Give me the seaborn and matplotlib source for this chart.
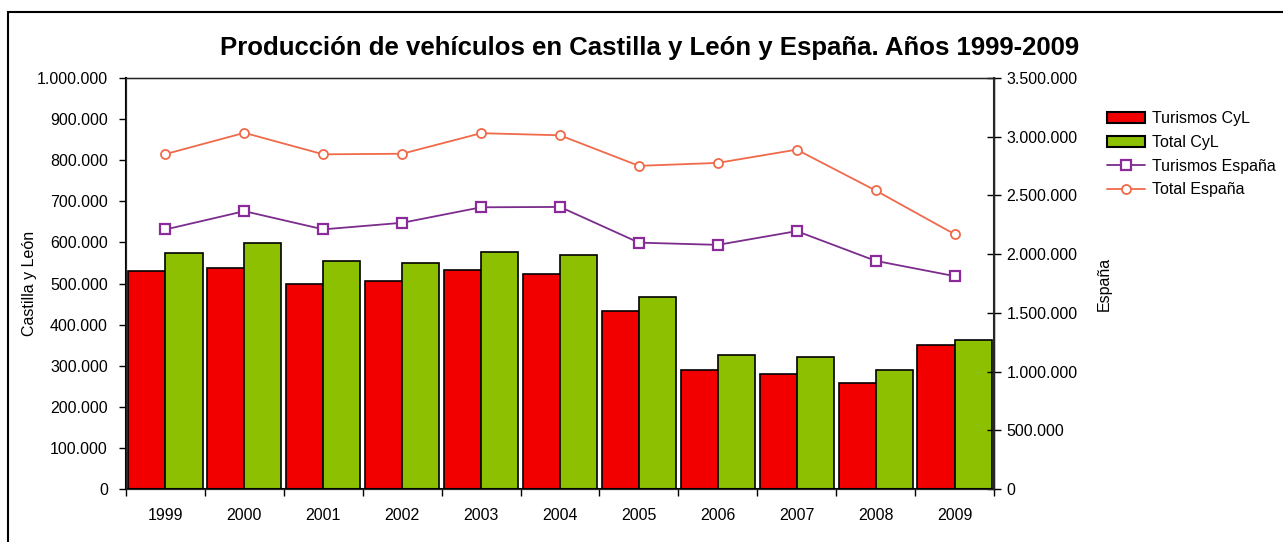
import numpy as np
import pandas as pd
import matplotlib
matplotlib.use("Agg")
import matplotlib.pyplot as plt
import matplotlib.ticker as mticker
from matplotlib.patches import Rectangle
import seaborn as sns

# Data
years = ["1999", "2000", "2001", "2002", "2003", "2004", "2005", "2006", "2007", "2008", "2009"]
turismos_cyl = [530000, 538000, 499000, 506000, 533000, 523000, 433000, 290000, 280000, 258000, 350000]
total_cyl = [574000, 598000, 555000, 550000, 577000, 569000, 467000, 326000, 321000, 290000, 363000]
turismos_esp = [2210000, 2366000, 2211000, 2267000, 2399000, 2402000, 2098000, 2079000, 2196000, 1943000, 1813000]
total_esp = [2852000, 3033000, 2850000, 2855000, 3030000, 3012000, 2752000, 2777000, 2890000, 2542000, 2170000]

bar_labels = ["Turismos CyL", "Total CyL"]
line_labels = ["Turismos España", "Total España"]

sns.set_style("white")
plt.rcParams["font.family"] = ["Liberation Sans", "DejaVu Sans"]
plt.rcParams["text.color"] = "black"
plt.rcParams["axes.labelcolor"] = "black"
plt.rcParams["xtick.color"] = "black"
plt.rcParams["ytick.color"] = "black"

df = pd.DataFrame({
    "year": years * 2,
    "value": turismos_cyl + total_cyl,
    "serie": [bar_labels[0]] * len(years) + [bar_labels[1]] * len(years),
})

fig = plt.figure(figsize=(12.83, 5.42), dpi=100)
ax = fig.add_axes([126 / 1283, 1 - 489 / 542, (994 - 126) / 1283, (489 - 78) / 542])

# outer frame
fig.patches.append(Rectangle((8 / 1283, -0.05), 1.1, 1 - 12 / 542 + 0.05,
                             transform=fig.transFigure, fill=False,
                             edgecolor="black", linewidth=1.5))

sns.barplot(data=df, x="year", y="value", hue="serie",
            palette=["#f20000", "#8cc000"], width=0.94, gap=0,
            edgecolor="black", linewidth=1.2, saturation=1, ax=ax)

ax.set_ylim(0, 1000000)
ax.set_xlim(-0.5, len(years) - 0.5)
ax.yaxis.set_major_locator(mticker.MultipleLocator(100000))
ax.yaxis.set_major_formatter(mticker.FuncFormatter(lambda v, p: f"{int(v):,}".replace(",", ".")))
ax.set_xlabel("")
ax.set_ylabel("Castilla y León", fontsize=11.5, labelpad=0)
ax.tick_params(axis="y", direction="out", length=5, width=1, labelsize=11.5, left=True, pad=8)
ax.set_xticks(np.arange(len(years) + 1) - 0.5, minor=False)
ax.set_xticklabels([])
ax.set_xticks(np.arange(len(years)), minor=True)
ax.set_xticklabels(years, minor=True)
ax.tick_params(axis="x", which="major", direction="out", length=5, width=1, bottom=True)
ax.tick_params(axis="x", which="minor", length=0, labelsize=11.5, pad=14)
for s in ax.spines.values():
    s.set_color("black")
    s.set_linewidth(1)
ax.spines["left"].set_linewidth(1.5)
ax.spines["bottom"].set_linewidth(1.5)
ax.get_legend().remove()

ax2 = ax.twinx()
x = np.arange(len(years))
ax2.plot(x, turismos_esp, color="#7b2c8c", linewidth=1.3, marker="s",
         markersize=6.5, markerfacecolor="white", markeredgecolor="#8b2a9a",
         markeredgewidth=1.6, label=line_labels[0])
ax2.plot(x, total_esp, color="#f06a4a", linewidth=1.3, marker="o",
         markersize=6.5, markerfacecolor="white", markeredgecolor="#f06a4a",
         markeredgewidth=1.3, label=line_labels[1])
ax2.set_ylim(0, 3500000)
ax2.yaxis.set_major_locator(mticker.MultipleLocator(500000))
ax2.yaxis.set_major_formatter(mticker.FuncFormatter(lambda v, p: f"{int(v):,}".replace(",", ".")))
ax2.set_ylabel("España", fontsize=11.5, labelpad=14)
ax2.tick_params(axis="y", direction="inout", length=10, width=1, labelsize=11.5, right=True, pad=4)
ax2.spines["right"].set_linewidth(1.5)

# legend
handles = [Rectangle((0, 0), 1, 1, facecolor="#f20000", edgecolor="black", linewidth=1.5),
           Rectangle((0, 0), 1, 1, facecolor="#8cc000", edgecolor="black", linewidth=1.5)]
handles += ax2.get_lines()
fig.legend(handles, bar_labels + line_labels, loc="upper left",
           bbox_to_anchor=(1099 / 1283, 1 - 103 / 542), frameon=False,
           fontsize=11.5, handlelength=2.4, handleheight=0.7, labelspacing=0.55,
           handletextpad=0.4, borderpad=0)

fig.text(650 / 1283, 1 - 48 / 542,
         "Producción de vehículos en Castilla y León y España. Años 1999-2009",
         ha="center", va="center", fontsize=18.5, fontweight="bold")

fig.savefig("out.png", dpi=100)
